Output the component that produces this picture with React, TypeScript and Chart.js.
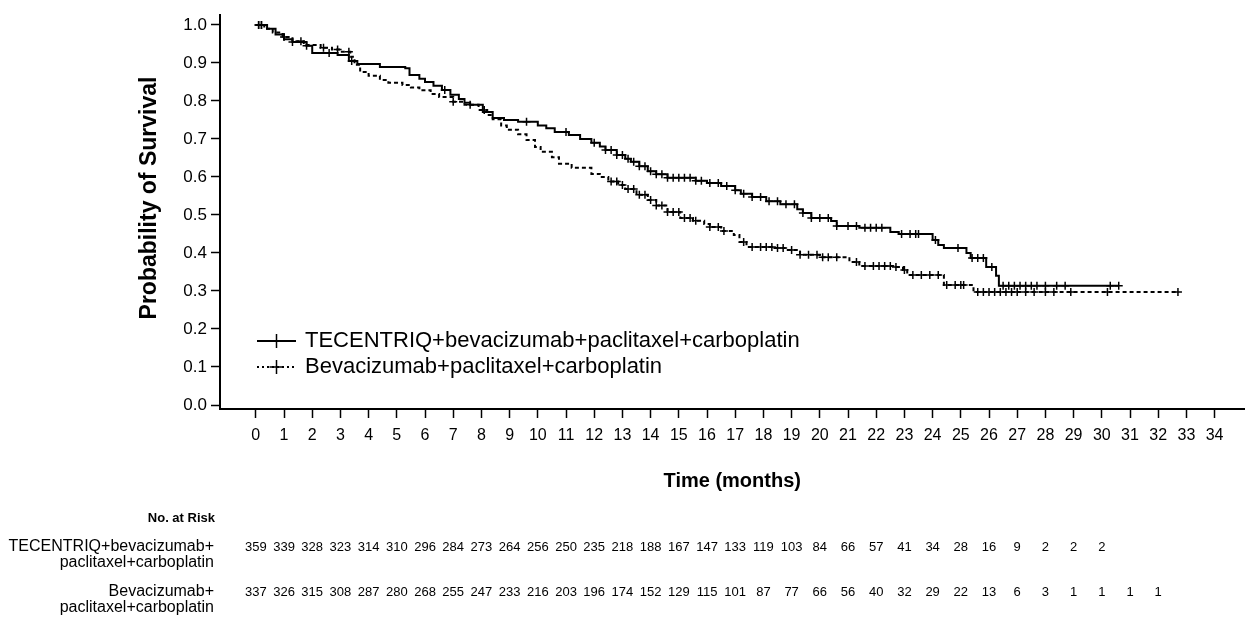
import React, { useEffect, useRef } from 'react';
import { Chart, registerables } from 'chart.js';

Chart.register(...registerables);

const months = [0, 1, 2, 3, 4, 5, 6, 7, 8, 9, 10, 11, 12, 13, 14, 15, 16, 17, 18, 19, 20, 21, 22, 23, 24, 25, 26, 27, 28, 29, 30, 31, 32, 33, 34];
const yTicks = [0, 0.1, 0.2, 0.3, 0.4, 0.5, 0.6, 0.7, 0.8, 0.9, 1.0];

const seriesNames = ['TECENTRIQ+bevacizumab+paclitaxel+carboplatin', 'Bevacizumab+paclitaxel+carboplatin'];
const riskRowLabels = [['TECENTRIQ+bevacizumab+', 'paclitaxel+carboplatin'], ['Bevacizumab+', 'paclitaxel+carboplatin']];

const tecTimes = [0, 0.4, 0.7, 1.0, 1.3, 1.8, 2.0, 2.9, 3.3, 3.6, 4.4, 5.3, 5.45, 5.8, 6.0, 6.3, 6.6, 6.9, 7.2, 7.4, 7.6, 8.05, 8.4, 8.8, 9.3, 10.0, 10.3, 10.6, 11.1, 11.5, 11.9, 12.2, 12.4, 12.8, 13.1, 13.3, 13.6, 13.9, 14.2, 14.6, 15.6, 16.0, 16.5, 17.0, 17.2, 17.6, 18.1, 18.6, 19.2, 19.4, 19.7, 20.4, 20.6, 21.4, 22.5, 22.8, 24.0, 24.2, 24.4, 25.2, 25.35, 25.9, 26.25, 26.35, 30.6];
const tecSurv = [1.0, 0.99, 0.975, 0.962, 0.955, 0.945, 0.926, 0.921, 0.905, 0.897, 0.889, 0.886, 0.868, 0.858, 0.85, 0.84, 0.829, 0.816, 0.805, 0.795, 0.79, 0.771, 0.755, 0.75, 0.745, 0.735, 0.728, 0.718, 0.71, 0.7, 0.69, 0.68, 0.671, 0.658, 0.648, 0.64, 0.628, 0.615, 0.607, 0.598, 0.59, 0.584, 0.576, 0.565, 0.556, 0.547, 0.536, 0.528, 0.515, 0.505, 0.492, 0.484, 0.471, 0.466, 0.455, 0.45, 0.434, 0.421, 0.413, 0.4, 0.387, 0.363, 0.34, 0.314, 0.314];

const bevTimes = [0, 0.3, 0.6, 0.95, 1.3, 1.7, 2.3, 2.7, 3.0, 3.35, 3.5, 3.7, 4.0, 4.4, 4.7, 5.2, 5.5, 5.8, 6.2, 6.5, 7.0, 7.4, 7.9, 8.2, 8.4, 8.7, 8.9, 9.3, 9.6, 9.9, 10.1, 10.5, 10.75, 11.2, 11.9, 12.2, 12.5, 12.85, 13.1, 13.5, 13.9, 14.2, 14.6, 15.05, 15.5, 15.9, 16.1, 16.5, 16.95, 17.15, 17.4, 18.4, 18.8, 19.3, 20.0, 21.05, 21.4, 22.7, 22.95, 23.1, 24.4, 25.45, 32.7];
const bevSurv = [1.0, 0.99, 0.98, 0.968, 0.957, 0.947, 0.94, 0.935, 0.929, 0.916, 0.895, 0.876, 0.866, 0.855, 0.848, 0.842, 0.835, 0.828, 0.818, 0.81, 0.798, 0.79, 0.776, 0.763, 0.752, 0.735, 0.724, 0.712, 0.697, 0.679, 0.666, 0.652, 0.635, 0.624, 0.608, 0.6, 0.588, 0.579, 0.568, 0.553, 0.539, 0.525, 0.508, 0.492, 0.485, 0.476, 0.468, 0.458, 0.447, 0.429, 0.416, 0.413, 0.408, 0.395, 0.389, 0.376, 0.366, 0.363, 0.355, 0.342, 0.316, 0.297, 0.297];

const tecCensor = [0.1, 0.2, 1.3, 1.8, 2.6, 3.4, 6.7, 9.6, 11.0, 12.0, 12.4, 12.6, 12.8, 13.0, 13.2, 13.4, 13.6, 13.8, 14.0, 14.2, 14.4, 14.6, 14.8, 15.0, 15.2, 15.4, 15.6, 15.8, 16.1, 16.4, 16.7, 17.0, 17.3, 17.6, 17.9, 18.2, 18.5, 18.8, 19.1, 19.4, 19.7, 20.0, 20.3, 20.6, 21.0, 21.3, 21.6, 21.8, 22.0, 22.2, 22.9, 23.2, 23.4, 23.5, 24.1, 24.9, 25.4, 25.6, 25.8, 26.1, 26.5, 26.7, 26.9, 27.1, 27.3, 27.5, 27.7, 28.0, 28.4, 28.7, 30.3, 30.6];
const bevCensor = [0.1, 0.2, 1.0, 1.6, 2.4, 2.9, 3.3, 7.0, 7.6, 8.1, 12.6, 12.8, 13.0, 13.2, 13.4, 13.6, 13.8, 14.0, 14.2, 14.4, 14.6, 14.8, 15.0, 15.2, 15.4, 15.6, 16.1, 16.4, 16.6, 17.3, 17.6, 17.9, 18.1, 18.3, 18.5, 18.7, 19.0, 19.3, 19.6, 19.9, 20.1, 20.3, 20.6, 21.3, 21.6, 21.9, 22.1, 22.3, 22.5, 22.7, 23.0, 23.3, 23.6, 23.9, 24.2, 24.5, 24.8, 25.0, 25.1, 25.6, 25.8, 26.0, 26.2, 26.4, 26.6, 26.8, 27.0, 27.3, 27.6, 28.0, 28.3, 28.9, 30.2, 32.7];

const tecAtRisk = [359, 339, 328, 323, 314, 310, 296, 284, 273, 264, 256, 250, 235, 218, 188, 167, 147, 133, 119, 103, 84, 66, 57, 41, 34, 28, 16, 9, 2, 2, 2];
const bevAtRisk = [337, 326, 315, 308, 287, 280, 268, 255, 247, 233, 216, 203, 196, 174, 152, 129, 115, 101, 87, 77, 66, 56, 40, 32, 29, 22, 13, 6, 3, 1, 1, 1, 1];

const FONT = "'Liberation Sans', Arial, Helvetica, sans-serif";

function survAt(times: number[], surv: number[], t: number): number {
  let v = surv[0];
  for (let i = 0; i < times.length; i++) {
    if (times[i] <= t) v = surv[i];
  }
  return v;
}

const overlayPlugin = {
  id: 'kmOverlay',
  afterDraw(chart: any) {
    const ctx = chart.ctx;
    const xs = chart.scales.x;
    ctx.save();
    ctx.fillStyle = '#000';
    ctx.strokeStyle = '#000';

    // axis titles
    ctx.textAlign = 'center';
    ctx.textBaseline = 'middle';
    ctx.font = `bold 20px ${FONT}`;
    ctx.fillText('Time (months)', (chart.chartArea.left + chart.chartArea.right) / 2, 481);
    ctx.save();
    ctx.font = `bold 23px ${FONT}`;
    ctx.translate(150, 198);
    ctx.rotate(-Math.PI / 2);
    ctx.fillText('Probability of Survival', 0, 0);
    ctx.restore();

    // legend
    const legendX0 = 257, legendX1 = 296;
    const ly = [341, 367];
    const mid = (legendX0 + legendX1) / 2;
    ctx.lineWidth = 2;
    ctx.setLineDash([]);
    ctx.beginPath();
    ctx.moveTo(legendX0, ly[0]);
    ctx.lineTo(legendX1, ly[0]);
    ctx.stroke();
    ctx.lineWidth = 1.5;
    ctx.beginPath();
    ctx.moveTo(mid, ly[0] - 7);
    ctx.lineTo(mid, ly[0] + 7);
    ctx.stroke();
    ctx.lineWidth = 2;
    ctx.setLineDash([2, 3]);
    ctx.beginPath();
    ctx.moveTo(legendX0, ly[1]);
    ctx.lineTo(legendX1, ly[1]);
    ctx.stroke();
    ctx.setLineDash([]);
    ctx.lineWidth = 1.5;
    ctx.beginPath();
    ctx.moveTo(mid, ly[1] - 7);
    ctx.lineTo(mid, ly[1] + 7);
    ctx.moveTo(mid - 7, ly[1]);
    ctx.lineTo(mid + 7, ly[1]);
    ctx.stroke();
    ctx.font = `22px ${FONT}`;
    ctx.textAlign = 'left';
    ctx.fillText(seriesNames[0], 305, ly[0]);
    ctx.fillText(seriesNames[1], 305, ly[1]);

    // risk table
    ctx.textAlign = 'right';
    ctx.font = `bold 13px ${FONT}`;
    ctx.fillText('No. at Risk', 215, 518);
    ctx.font = `16px ${FONT}`;
    const rowY = [[547, 563], [592, 608]];
    riskRowLabels.forEach((lines, r) => {
      lines.forEach((ln, k) => ctx.fillText(ln, 214, rowY[r][k]));
    });
    ctx.font = `13px ${FONT}`;
    ctx.textAlign = 'center';
    tecAtRisk.forEach((n, i) => ctx.fillText(String(n), xs.getPixelForValue(months[i]), rowY[0][0]));
    bevAtRisk.forEach((n, i) => ctx.fillText(String(n), xs.getPixelForValue(months[i]), rowY[1][0]));
    ctx.restore();
  },
};

export default function App() {
  const ref = useRef<HTMLCanvasElement>(null);

  useEffect(() => {
    document.body.style.margin = '0';
    const canvas = ref.current;
    if (!canvas) return;
    const chart = new Chart(canvas, {
      type: 'line',
      data: {
        datasets: [
          {
            label: seriesNames[0],
            data: tecTimes.map((t, i) => ({ x: t, y: tecSurv[i] })),
            stepped: true,
            borderColor: '#000',
            borderWidth: 2,
            pointRadius: 0,
            fill: false,
          },
          {
            label: seriesNames[1],
            data: bevTimes.map((t, i) => ({ x: t, y: bevSurv[i] })),
            stepped: true,
            borderColor: '#000',
            borderWidth: 2,
            borderDash: [4, 3],
            pointRadius: 0,
            fill: false,
          },
          {
            label: 'censor1',
            data: tecCensor.map((t) => ({ x: t, y: survAt(tecTimes, tecSurv, t) })),
            showLine: false,
            pointStyle: 'cross',
            pointRadius: 4,
            borderColor: '#000',
            borderWidth: 1.5,
          },
          {
            label: 'censor2',
            data: bevCensor.map((t) => ({ x: t, y: survAt(bevTimes, bevSurv, t) })),
            showLine: false,
            pointStyle: 'cross',
            pointRadius: 4,
            borderColor: '#000',
            borderWidth: 1.5,
          },
        ] as any,
      },
      options: {
        animation: false,
        responsive: false,
        layout: { padding: { top: 15, left: 0, right: 0, bottom: 0 } },
        plugins: { legend: { display: false }, tooltip: { enabled: false } },
        scales: {
          x: {
            type: 'linear',
            min: -1.27,
            max: 35.06,
            afterBuildTicks: (s: any) => {
              s.ticks = months.map((v) => ({ value: v }));
            },
            afterFit: (s: any) => {
              s.height = 627 - 409;
            },
            ticks: {
              autoSkip: false,
              maxRotation: 0,
              padding: 8,
              color: '#000',
              font: { family: FONT, size: 16 },
              callback: (v: any) => String(v),
            },
            grid: { drawOnChartArea: false, drawTicks: true, tickLength: 9, tickColor: '#000', tickWidth: 1.5 },
            border: { display: true, color: '#000', width: 2 },
          },
          y: {
            type: 'linear',
            min: -0.0105,
            max: 1.026,
            afterBuildTicks: (s: any) => {
              s.ticks = yTicks.map((v) => ({ value: v }));
            },
            afterFit: (s: any) => {
              s.width = 220;
            },
            ticks: {
              padding: 4,
              color: '#000',
              font: { family: FONT, size: 17 },
              callback: (v: any) => Number(v).toFixed(1),
            },
            grid: { drawOnChartArea: false, drawTicks: true, tickLength: 9, tickColor: '#000', tickWidth: 1.5 },
            border: { display: true, color: '#000', width: 2 },
          },
        },
      } as any,
      plugins: [overlayPlugin],
    });
    return () => chart.destroy();
  }, []);

  return (
    <div style={{ position: 'fixed', left: 0, top: 0, width: 1250, height: 627, background: '#fff' }}>
      <canvas ref={ref} width={1250} height={627} />
    </div>
  );
}
